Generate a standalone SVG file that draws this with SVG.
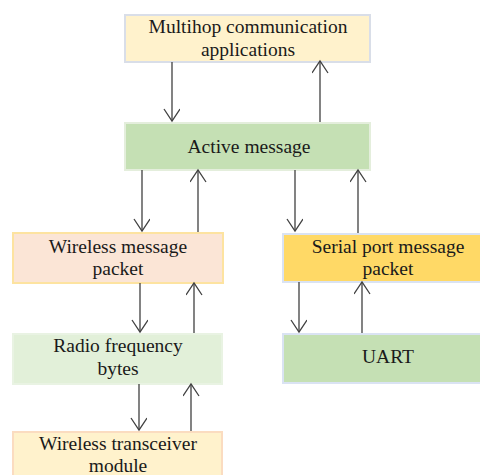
<svg xmlns="http://www.w3.org/2000/svg" width="480" height="475" viewBox="0 0 480 475">
<style>
text{font-family:'Liberation Serif','DejaVu Serif','Times New Roman',serif;font-size:19.5px;fill:#1a1a1a;text-anchor:middle}
.c line{stroke:#404040;stroke-width:1.3;fill:none}
rect{stroke-width:2}
</style>
<defs>
<marker id="ah" markerUnits="userSpaceOnUse" markerWidth="20" markerHeight="20" refX="13" refY="8" orient="auto" viewBox="0 0 20 20">
<path d="M1,0 L13,8 L1,16" fill="none" stroke="#404040" stroke-width="1.3"/>
</marker>
</defs>
<rect width="480" height="475" fill="#fff" stroke="none"/>
<g id="multihop">
<rect x="125" y="15" width="245" height="47" fill="#fff2cc" stroke="#d9dee8"/>
<text x="248" y="33" font-family="Liberation Serif, serif">Multihop communication</text>
<text x="248" y="56" font-family="Liberation Serif, serif">applications</text>
</g>
<g id="active">
<rect x="125" y="123" width="245" height="47" fill="#c5e0b4" stroke="#e4eedc"/>
<text x="249" y="153" font-family="Liberation Serif, serif">Active message</text>
</g>
<g id="wireless-packet">
<rect x="13" y="233" width="210" height="50" fill="#fbe5d6" stroke="#fde3a0"/>
<text x="118" y="253" font-family="Liberation Serif, serif">Wireless message</text>
<text x="118" y="275" font-family="Liberation Serif, serif">packet</text>
</g>
<g id="serial">
<rect x="283" y="234" width="210" height="48" fill="#ffd966" stroke="#dae3f3"/>
<text x="388" y="253" font-family="Liberation Serif, serif">Serial port message</text>
<text x="388" y="275" font-family="Liberation Serif, serif">packet</text>
</g>
<g id="radio">
<rect x="13" y="334" width="209" height="50" fill="#e2f0d9" stroke="#e9f3e3"/>
<text x="118" y="352" font-family="Liberation Serif, serif">Radio frequency</text>
<text x="118" y="375" font-family="Liberation Serif, serif">bytes</text>
</g>
<g id="uart">
<rect x="283" y="334" width="210" height="49" fill="#c5e0b4" stroke="#dae3f3"/>
<text x="388" y="363" font-family="Liberation Serif, serif">UART</text>
</g>
<g id="transceiver">
<rect x="13" y="432" width="209" height="50" fill="#fff2cc" stroke="#fbdcc0"/>
<text x="118" y="450" font-family="Liberation Serif, serif">Wireless transceiver</text>
<text x="118" y="472" font-family="Liberation Serif, serif">module</text>
</g>
<g class="c" id="connectors">
<line x1="172" y1="62" x2="172" y2="121" marker-end="url(#ah)"/>
<line x1="320" y1="122" x2="320" y2="61" marker-end="url(#ah)"/>
<line x1="142" y1="170" x2="142" y2="231" marker-end="url(#ah)"/>
<line x1="198" y1="232" x2="198" y2="170" marker-end="url(#ah)"/>
<line x1="295" y1="170" x2="295" y2="231" marker-end="url(#ah)"/>
<line x1="358" y1="233" x2="358" y2="170" marker-end="url(#ah)"/>
<line x1="140" y1="283" x2="140" y2="332" marker-end="url(#ah)"/>
<line x1="194" y1="333" x2="194" y2="283" marker-end="url(#ah)"/>
<line x1="299" y1="282" x2="299" y2="332" marker-end="url(#ah)"/>
<line x1="362" y1="333" x2="362" y2="282" marker-end="url(#ah)"/>
<line x1="139" y1="384" x2="139" y2="430" marker-end="url(#ah)"/>
<line x1="191" y1="431" x2="191" y2="384" marker-end="url(#ah)"/>
</g>
</svg>
